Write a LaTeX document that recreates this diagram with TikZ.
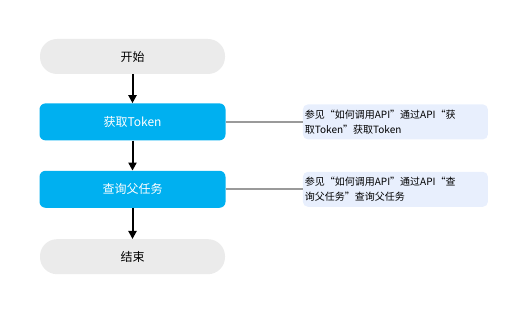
\documentclass[tikz,border=0pt]{standalone}
\usepackage{fontspec}
\setmainfont{Noto Sans CJK SC}
\usepackage{xcolor}
\usetikzlibrary{positioning, arrows.meta}

\definecolor{termgray}{HTML}{EBEBEB}
\definecolor{stepblue}{HTML}{00B0F0}
\definecolor{noteblue}{HTML}{E8EFFD}
\definecolor{linkgray}{HTML}{9A9A9A}

\begin{document}
\begin{tikzpicture}[
    x=1pt, y=1pt,
    node distance=29pt and 77pt,
    every node/.style={align=center},
    terminal/.style={rectangle, rounded corners=17pt, fill=termgray, minimum width=185pt, minimum height=35pt, font=\fontsize{12}{14}\selectfont},
    stepbox/.style={rectangle, rounded corners=6pt, fill=stepblue, text=white, minimum width=186pt, minimum height=37pt, font=\fontsize{12}{14}\selectfont},
    notebox/.style={rectangle, rounded corners=5pt, fill=noteblue, text width=181pt, inner sep=2pt, minimum height=35pt, align=left, font=\fontsize{10}{15}\selectfont},
    flow/.style={-{Triangle[length=8pt, width=8pt]}, line width=2pt},
    link/.style={linkgray, line width=2pt}
]
    \useasboundingbox (0,0) rectangle (525,-312);

    \node[terminal] (start) at (132.5,-56.5) {开始};
    \node[stepbox, below=29pt of start] (token) {获取Token};
    \node[stepbox, below=30pt of token] (query) {查询父任务};
    \node[terminal, below=31pt of query] (stop) {结束};

    % notes to the right
    \node[notebox, right=77pt of token] (tokennote) {参见“如何调用API”通过API“获\\取Token”获取Token};
    \node[notebox, right=77pt of query] (querynote) {参见“如何调用API”通过API“查\\询父任务”查询父任务};

    \draw[flow] (start) -- (token);
    \draw[flow] (token) -- (query);
    \draw[flow] (query) -- (stop);

    \draw[link] (token) -- (tokennote);
    \draw[link] (query) -- (querynote);
\end{tikzpicture}
\end{document}
